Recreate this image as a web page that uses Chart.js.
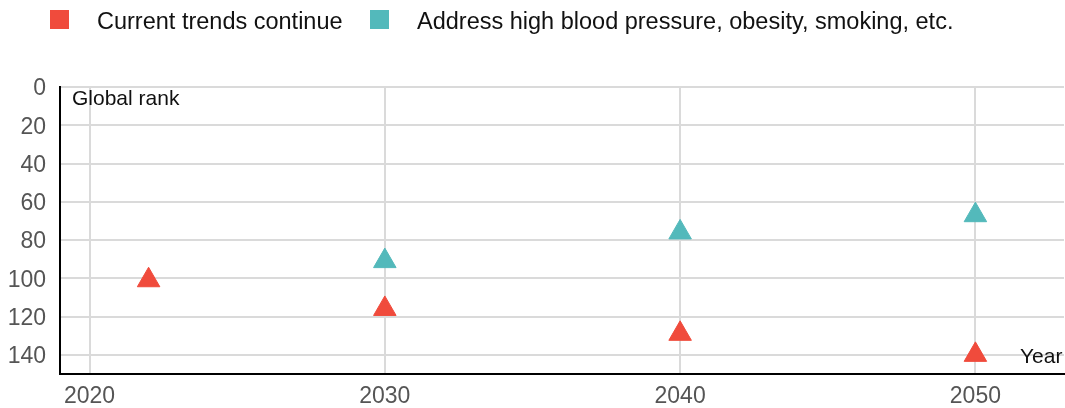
<!DOCTYPE html>
<html>
<head>
<meta charset="utf-8">
<script src="https://cdn.jsdelivr.net/npm/chart.js@4/dist/chart.umd.min.js"></script>
<style>
  html, body { margin: 0; padding: 0; background: #fff; overflow: hidden; }
  #wrap { width: 1065px; height: 408px; position: relative; }
  #rank_chart { display: block; }
</style>
</head>
<body>
<div id="wrap"><canvas id="rank_chart"></canvas></div>
<script>
var ctx = document.getElementById('rank_chart').getContext('2d');

// data
let trendYears = [2022, 2030, 2040, 2050];
let trendRanks = [101, 116, 129, 140];
let riskYears = [2030, 2040, 2050];
let riskRanks = [91, 76, 67];
let xTicks = [2020, 2030, 2040, 2050];
let yTicks = [0, 20, 40, 60, 80, 100, 120, 140];

let seriesNames = ['Current trends continue', 'Address high blood pressure, obesity, smoking, etc.'];
let seriesColors = ['#f04b3c', '#53b9bb'];

let fontFamily = '"Liberation Sans", Arial, Helvetica, sans-serif';

let toPoints = (xs, ys) => xs.map((x, i) => ({ 'x': x, 'y': ys[i] }));

// legend + in-plot axis titles, drawn on the canvas
let extraText = {
    id: 'extraText',
    afterDraw(chart) {
        let c = chart.ctx;
        c.save();
        c.textBaseline = 'alphabetic';
        c.textAlign = 'left';
        // legend
        let boxX = [50, 370];
        let textX = [97, 417];
        c.font = '23.5px ' + fontFamily;
        seriesNames.forEach((name, i) => {
            c.fillStyle = seriesColors[i];
            c.fillRect(boxX[i], 10, 19, 19);
            c.fillStyle = '#111';
            c.fillText(name, textX[i], 28.5);
        });
        // axis titles
        c.font = '21px ' + fontFamily;
        c.fillStyle = '#111';
        c.fillText('Global rank', 72, 105);
        c.fillText('Year', 1020, 363);
        c.restore();
    }
};

var rank_chart = new Chart(ctx, {
    type: 'scatter',
    data: {
        datasets: [{
                label: seriesNames[0],
                data: toPoints(trendYears, trendRanks),
                backgroundColor: seriesColors[0],
                borderColor: seriesColors[0],
                borderWidth: 1,
                pointStyle: 'triangle',
                pointRadius: 13
            }, {
                label: seriesNames[1],
                data: toPoints(riskYears, riskRanks),
                backgroundColor: seriesColors[1],
                borderColor: seriesColors[1],
                borderWidth: 1,
                pointStyle: 'triangle',
                pointRadius: 13
            }
        ]
    },
    options: {
        responsive: true,
        maintainAspectRatio: false,
        animation: false,
        events: [],
        clip: false,
        layout: {
            autoPadding: false,
            padding: { top: 87, right: 1, left: 0, bottom: 0 }
        },
        plugins: {
            legend: { display: false },
            tooltip: { enabled: false }
        },
        scales: {
            x: {
                type: 'linear',
                min: 2019,
                max: 2053,
                afterBuildTicks: (scale) => { scale.ticks = xTicks.map(v => ({ value: v })); },
                afterFit: (scale) => {
                    scale.height = 34;
                    scale.paddingLeft = 0;
                    scale.paddingRight = 0;
                },
                grid: { color: '#dadada', lineWidth: 2, drawTicks: false },
                border: { display: true, color: '#000', width: 2 },
                ticks: {
                    padding: 9,
                    color: '#555',
                    font: { family: fontFamily, size: 23 },
                    callback: (v) => String(v)
                }
            },
            y: {
                reverse: true,
                min: 0,
                max: 150,
                afterBuildTicks: (scale) => { scale.ticks = yTicks.map(v => ({ value: v })); },
                afterFit: (scale) => { scale.width = 60; },
                grid: { color: '#dadada', lineWidth: 2, drawTicks: false },
                border: { display: true, color: '#000', width: 2 },
                ticks: {
                    padding: 14,
                    labelOffset: 2,
                    color: '#555',
                    font: { family: fontFamily, size: 23 }
                }
            }
        }
    },
    plugins: [extraText]
});
</script>
</body>
</html>
